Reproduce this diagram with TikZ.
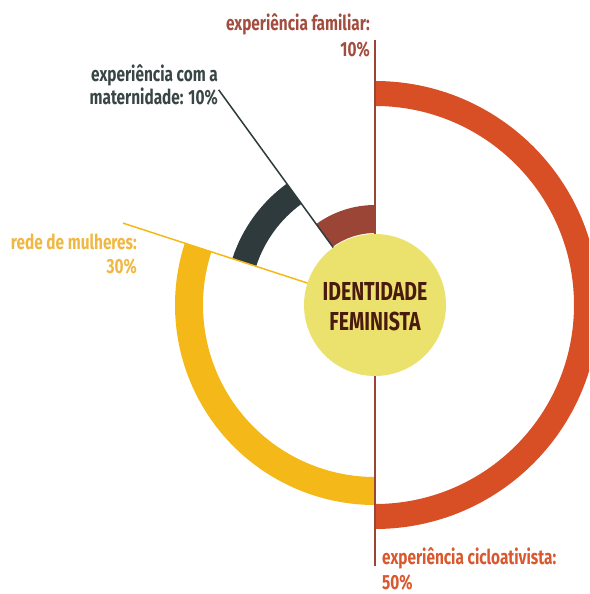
\documentclass[tikz,border=0pt]{standalone}
\usepackage{fontspec}
\setmainfont{Fira Sans}[FakeStretch=0.75]
\definecolor{cOrange}{HTML}{D84F26}
\definecolor{cYellow}{HTML}{F4B818}
\definecolor{cDark}{HTML}{2E3A3B}
\definecolor{cBrown}{HTML}{9B4536}
\definecolor{cCircle}{HTML}{EBE26E}
\definecolor{cCenterTxt}{HTML}{4A1A0E}
\definecolor{tFam}{HTML}{A24D3F}
\definecolor{tMat}{HTML}{3A4545}
\definecolor{tRede}{HTML}{F0B843}
\definecolor{tCiclo}{HTML}{D9582E}
\tikzset{
  lbl/.style={inner sep=0pt, font=\bfseries\fontsize{20.5}{24.5}\selectfont},
  sepline/.style={line width=1.5pt},
}
\newcommand{\ringseg}[5]{% color, a1, a2, r1, r2
  \fill[#1] (#2:#5) arc[start angle=#2, end angle=#3, radius=#5]
    -- (#3:#4) arc[start angle=#3, end angle=#2, radius=#4] -- cycle;}
\begin{document}
\begin{tikzpicture}[x=1pt,y=1pt]
\useasboundingbox (-375,-289) rectangle (214,305);
\clip (-375,-289) rectangle (214,305);
% rings
\ringseg{cOrange}{90}{-90}{199}{224}
\ringseg{cYellow}{270}{162}{172}{200}
\ringseg{cDark}{162}{126}{125}{150}
\ringseg{cBrown}{126}{90}{72}{100}
% centre and line ends
\coordinate (O) at (0,0);
\coordinate (famEnd) at (90:265);
\coordinate (cicEnd) at (-90:261);
\coordinate (matEnd) at (126:266);
\coordinate (redeEnd) at (162:265);
\draw[sepline, cBrown] (famEnd) -- (cicEnd);
\draw[sepline, cDark] (O) -- (matEnd);
\draw[sepline, cYellow] (O) -- (redeEnd);
% centre circle
\node[circle, fill=cCircle, minimum size=142pt, inner sep=0pt] (centre) at (O) {};
\node[font=\bfseries\fontsize{26}{30}\selectfont, text=cCenterTxt, align=center, inner sep=0pt] (ctext) at (0,-1.5) {IDENTIDADE\\FEMINISTA};
% labels (base anchor = baseline of last line)
\node[lbl, text=tFam, align=right, anchor=base east, font=\bfseries\fontsize{20.5}{26}\selectfont] (lfam) at (-5,248) {experiência familiar:\\10\%};
\node[lbl, text=tMat, align=right, anchor=base east, font=\bfseries\fontsize{20.5}{23.5}\selectfont] (lmat) at (-157,200) {experiência com a\\maternidade: 10\%};
\node[lbl, text=tRede, align=right, anchor=base east] (lrede) at (-238,31) {rede de mulheres:\\30\%};
\node[lbl, text=tCiclo, align=left, anchor=base west] (lcic) at (7,-284) {experiência cicloativista:\\50\%};
\end{tikzpicture}
\end{document}
